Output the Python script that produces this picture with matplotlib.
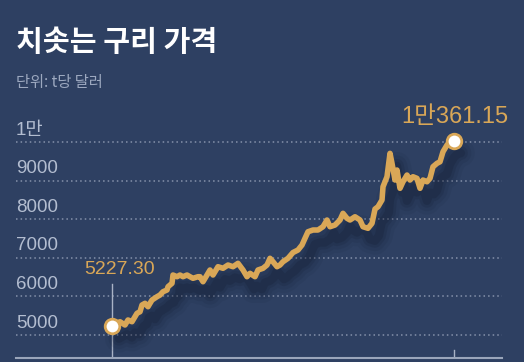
import matplotlib
matplotlib.use('Agg')
import matplotlib.pyplot as plt
import matplotlib.transforms as mtransforms

plt.rcParams['font.family'] = ['Liberation Sans', 'Noto Sans CJK KR', 'DejaVu Sans']

# copper price, USD per tonne (x in trading-day units)
days = [0, 8, 13, 16, 20, 25, 28, 30, 33, 36, 40, 45, 48, 51, 55, 56, 60, 61,
        65, 68, 71, 75, 78, 81, 86, 88, 91, 95, 98, 101, 106, 111, 116, 121,
        126, 131, 135, 138, 143, 146, 151, 155, 158, 161, 165, 168, 171, 176,
        181, 186, 190, 193, 196, 201, 206, 211, 215, 218, 223, 228, 231, 235,
        238, 243, 248, 251, 256, 260, 263, 266, 270, 271, 275, 278, 280, 283,
        285, 288, 291, 295, 298, 301, 305, 308, 311, 315, 318, 321, 325, 328,
        331, 335, 338, 342]
price = [5227, 5344, 5259, 5389, 5344, 5562, 5603, 5777, 5821, 5733, 5906,
         5992, 6036, 6121, 6166, 6251, 6339, 6554, 6510, 6554, 6510, 6554,
         6510, 6469, 6510, 6510, 6380, 6554, 6684, 6554, 6769, 6728, 6813,
         6769, 6857, 6684, 6510, 6598, 6510, 6684, 6728, 6813, 6987, 6898,
         6769, 6813, 6898, 6987, 7137, 7202, 7331, 7505, 7675, 7720, 7720,
         7805, 7979, 7805, 7849, 7979, 8152, 8023, 7979, 8064, 7979, 7805,
         7764, 7893, 8263, 8323, 8497, 8841, 9100, 9706, 9447, 9015, 9274,
         8800, 8970, 9144, 9015, 9100, 9058, 8800, 9015, 8970, 9058, 9359,
         9447, 9488, 9747, 9921, 10006, 10037]

yticks = [5000, 6000, 7000, 8000, 9000, 10000]
ytick_labels = ['5000', '6000', '7000', '8000', '9000', '1만']
start_label = '5227.30'
end_label = '1만361.15'

bg = '#2e4062'
gold = '#d9a757'
grid_col = '#8591aa'
label_col = '#b3bdd0'

fig = plt.figure(figsize=(5.24, 3.62), dpi=100, facecolor=bg)
ax = fig.add_axes([16 / 524, 4 / 362, 486 / 524, 238 / 362])
ax.set_facecolor(bg)
ax.set_xlim(-96, 390)
ax.set_ylim(4404, 10570)

for s in ['top', 'right', 'left']:
    ax.spines[s].set_visible(False)
ax.spines['bottom'].set_color('#9aa5ba')
ax.spines['bottom'].set_linewidth(1.5)
ax.set_xticks([])
ax.set_yticks([])

# dotted gridlines + labels sitting above them
for v, lab in zip(yticks, ytick_labels):
    ax.axhline(v, color=grid_col, lw=1.1, ls=(0, (1, 2)), zorder=1)
    ax.text(-96, v + 310, lab, color=label_col, fontsize=13.5,
            ha='left', va='center')

# marker lines at start and end
ax.plot([days[0], days[0]], [4404, 6330], color='#a9b3c6', lw=1, zorder=2)
ax.plot([days[-1], days[-1]], [4404, 4610], color='#a9b3c6', lw=1, zorder=2)

# blurred shadow under the line
for lw, a in [(20, 0.06), (15, 0.08), (10, 0.11), (6, 0.15)]:
    tr = mtransforms.offset_copy(ax.transData, fig=fig, x=5, y=-9, units='points')
    ax.plot(days, price, color='#0b1020', lw=lw, alpha=a, transform=tr,
            solid_capstyle='round', solid_joinstyle='round', zorder=2)

ax.plot(days, price, color=gold, lw=4, solid_joinstyle='round',
        solid_capstyle='round', zorder=3)
ax.plot([days[0], days[-1]], [price[0], price[-1]], 'o', ms=10.5,
        mfc='white', mec=gold, mew=2, zorder=4)

ax.text(days[0] + 8, 6700, start_label, color=gold, fontsize=14,
        ha='center', va='center')
ax.text(days[-1] + 54, 10640, end_label, color=gold, fontsize=17,
        ha='right', va='center', clip_on=False)

fig.text(16 / 524, 1 - 42 / 362, '치솟는 구리 가격', color='white',
         fontsize=21, fontweight='heavy', ha='left', va='center',
         family=['Noto Sans CJK KR', 'DejaVu Sans'])
fig.text(16 / 524, 1 - 83 / 362, '단위: t당 달러', color='#9ca8bf',
         fontsize=11, ha='left', va='center',
         family=['Noto Sans CJK KR', 'DejaVu Sans'])

fig.savefig('out.png', dpi=100, facecolor=bg)
